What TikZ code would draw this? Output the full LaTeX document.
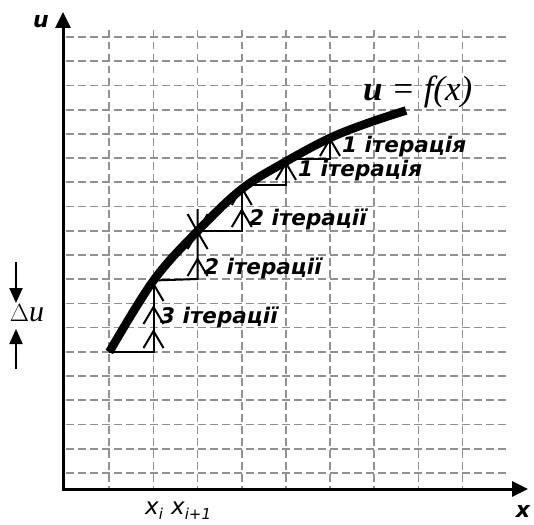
\documentclass[tikz,border=0pt]{standalone}
\usepackage{fontspec}
\newfontfamily\labfont{DejaVu Sans}
\newfontfamily\serfont{Liberation Serif}
\usetikzlibrary{arrows.meta}
\begin{document}
\begin{tikzpicture}[x=1pt,y=-1pt,
  gridline/.style={draw=black!43, line width=1.7pt, dash pattern=on 7.5pt off 4.5pt},
  axis/.style={line width=3pt, line join=miter},
  stepline/.style={line width=2pt},
  chev/.style={line width=2pt},
  curveline/.style={line width=8.5pt},
  itlab/.style={font=\labfont\bfseries\itshape\fontsize{21.5}{23}\selectfont, anchor=west, inner sep=0pt},
  axlab/.style={font=\labfont\bfseries\itshape\fontsize{22}{24}\selectfont, inner sep=0pt},
  xilab/.style={font=\labfont\itshape\fontsize{23}{25}\selectfont, inner sep=0pt},
  chevron/.pic={\draw[chev] (-10,17) -- (0,0) -- (10,17);},
  veeup/.pic={\draw[chev] (-10,-18) -- (0,0) -- (10,-18);},
]
\useasboundingbox (0,0) rectangle (534,524);
% grid
\foreach \k in {0,...,8} \draw[gridline] ({109.3+44.15*\k},30) -- ({109.3+44.15*\k},489);
\foreach \j in {0,...,18} \draw[gridline] (66,{37+24.22*\j}) -- (507,{37+24.22*\j});
% axes
\coordinate (O) at (63,489);
\coordinate (ytip) at (63,12);
\coordinate (xtip) at (528,489);
\draw[axis, {Triangle[length=16pt,width=15pt]}-{Triangle[length=16pt,width=15pt]}] (ytip) -- (O) -- (xtip);
\node[axlab] (ulab) at (41,22) {u};
\node[axlab] (xlab) at (523,511) {x};
% curve points
\coordinate (c0) at (109.3,352);
\coordinate (c1) at (153.5,280.5);
\coordinate (c2) at (197.6,231);
\coordinate (c3) at (241.8,189);
\coordinate (c4) at (286,161.5);
\coordinate (c5) at (330,138);
\coordinate (c6) at (368,123);
\coordinate (c7) at (406,110.5);
% step corners
\coordinate (s1) at (153.5,352);
\coordinate (s2) at (197.6,279);
\coordinate (s2t) at (197.6,209);
\coordinate (s3) at (241.8,231);
\coordinate (s3t) at (241.8,185);
\coordinate (s4) at (286,185);
\coordinate (s4t) at (286,159);
\coordinate (s5) at (330,159);
\coordinate (s5t) at (330,135);
\draw[stepline] (c0) -- (s1) -- (c1);
\draw[stepline] (c1) -- (s2) -- (s2t);
\draw[stepline] (c2) -- (s3) -- (s3t);
\draw[stepline] (s3t) -- (s4) -- (s4t);
\draw[stepline] (s4t) -- (s5) -- (s5t);
% chevrons
\pic at (153.5,331) {chevron};
\pic at (153.5,307) {chevron};
\pic at (153.5,284) {chevron};
\pic at (197.6,259) {chevron};
\pic at (197.6,232) {chevron};
\pic at (197.6,232) {veeup};
\pic at (241.8,210) {chevron};
\pic at (241.8,188) {chevron};
\pic at (286,163) {chevron};
\pic at (330,139) {chevron};
% curve
\draw[curveline] plot[smooth, tension=0.6] coordinates {(c0) (c1) (c2) (c3) (c4) (c5) (c6) (c7)};
\fill (c2) circle (4.5pt);
% labels
\node[itlab] (l3) at (160,317) {3 ітерації};
\node[itlab] (l2a) at (204,268) {2 ітерації};
\node[itlab] (l2b) at (249,219) {2 ітерації};
\node[itlab] (l1a) at (298,171) {1 ітерація};
\node[itlab] (l1b) at (342,147) {1 ітерація};
\node[font=\serfont\itshape\fontsize{35}{37}\selectfont, anchor=west, inner sep=0pt] (fx) at (363,92) {\textbf{u} = f(x)};
% delta u
\coordinate (da1) at (16,262);
\coordinate (da2) at (16,303);
\coordinate (db1) at (16,369);
\coordinate (db2) at (16,329);
\draw[line width=2.2pt, -{Triangle[length=15pt,width=13pt]}] (da1) -- (da2);
\draw[line width=2.2pt, -{Triangle[length=15pt,width=13pt]}] (db1) -- (db2);
\node[font=\serfont\fontsize{30}{32}\selectfont, inner sep=0pt] (du) at (27,313) {$\Delta$\textit{u}};
% x labels
\node[xilab, anchor=west] (xi) at (145,511) {x\raisebox{-0.4ex}{\fontsize{15}{16}\selectfont i}};
\node[xilab, anchor=west] (xi1) at (171,511) {x\raisebox{-0.4ex}{\fontsize{15}{16}\selectfont i+1}};
\end{tikzpicture}
\end{document}
